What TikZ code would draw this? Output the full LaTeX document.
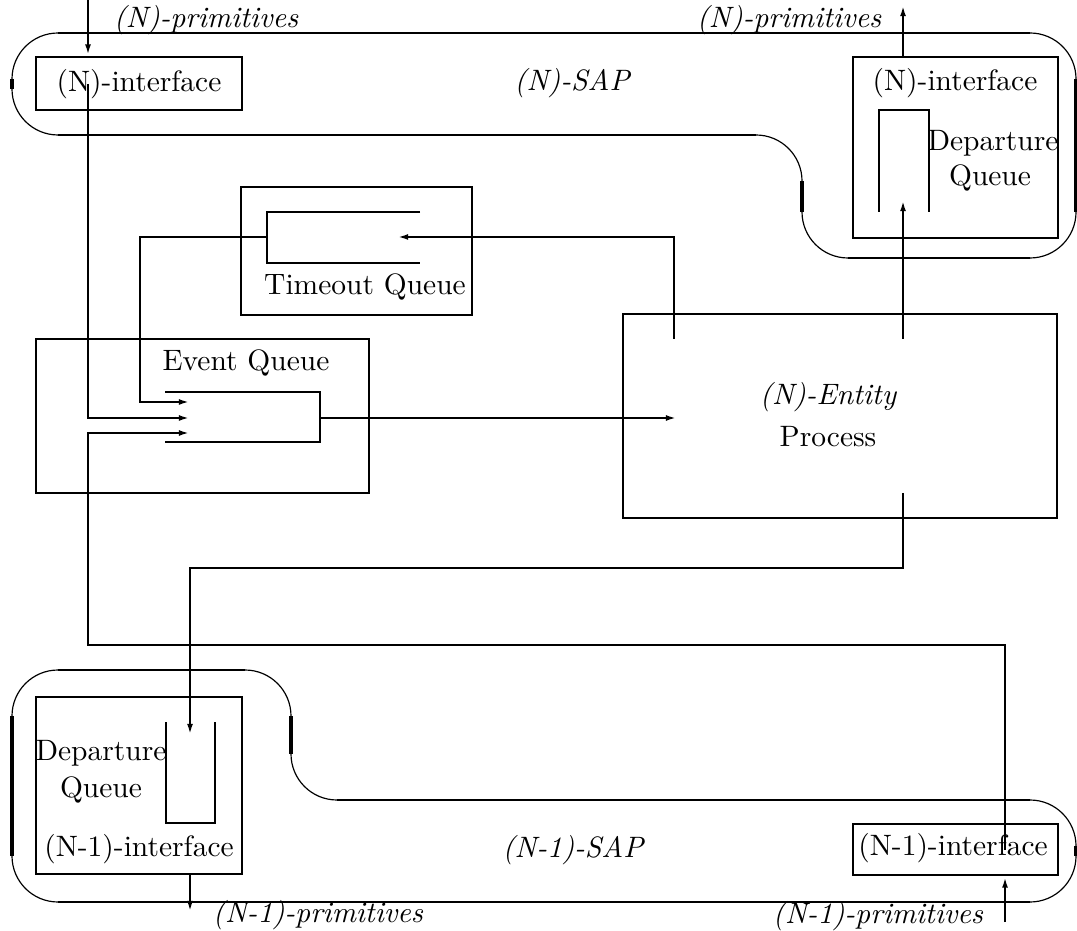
\documentclass[tikz,border=0pt]{standalone}
\usetikzlibrary{arrows.meta,fit}
\begin{document}
\begin{tikzpicture}[x=0.339pt,y=-0.339pt,
  box/.style={draw,line width=1pt,inner sep=0pt},
  conn/.style={line width=0.85pt},
  arr/.style={conn,-{Latex[length=3.8pt,width=2pt]}},
  sapthin/.style={line width=0.4pt,rounded corners=15.6pt},
  saprun/.style={line width=0.85pt},
  sapside/.style={line width=1.15pt},
  qline/.style={line width=1pt},
  lbl/.style={inner sep=0pt},
  itl/.style={inner sep=0pt,font=\itshape}
]
\useasboundingbox (0,0) rectangle (1077,931);

% ---- (N)-SAP outline: thin rounded corners, heavier straight runs
\draw[sapthin] (12,33) -- (1076,33) -- (1076,258) -- (802,258) -- (802,135) -- (12,135) -- cycle;
\draw[saprun] (58,33) -- (1030,33);
\draw[sapside] (1076,79) -- (1076,212);
\draw[saprun] (1030,258) -- (848,258);
\draw[sapside] (802,181) -- (802,212);
\draw[saprun] (756,135) -- (58,135);
\draw[sapside] (12,79) -- (12,89);

% ---- (N-1)-SAP outline
\draw[sapthin] (12,670) -- (291,670) -- (291,800) -- (1076,800) -- (1076,902) -- (12,902) -- cycle;
\draw[saprun] (58,670) -- (245,670);
\draw[sapside] (291,716) -- (291,754);
\draw[saprun] (337,800) -- (1030,800);
\draw[sapside] (1076,846) -- (1076,856);
\draw[saprun] (1030,902) -- (58,902);
\draw[sapside] (12,716) -- (12,856);

% ---- boxes
\node[box,fit={(36,57)(242,110)}] (nifL) {};
\node[box,fit={(853,57)(1058,238)}] (nifR) {};
\node[box,fit={(241,187)(472,315)}] (tobox) {};
\node[box,fit={(36,339)(369,493)}] (evbox) {};
\node[box,fit={(623,314)(1057,518)}] (proc) {};
\node[box,fit={(36,697)(242,874)}] (lifL) {};
\node[box,fit={(853,824)(1058,875)}] (lifR) {};

% ---- queues
\draw[qline] (879,212) -- (879,110) -- (929,110) -- (929,212);
\draw[qline] (420,212) -- (267,212) -- (267,263) -- (420,263);
\draw[qline] (165,392) -- (320,392) -- (320,442) -- (165,442);
\draw[qline] (166,722) -- (166,823) -- (215,823) -- (215,722);

% ---- texts
\node[itl] (tprimL) at (206,20) {(N)-primitives};
\node[itl] (tprimR) at (789,20) {(N)-primitives};
\node[itl] (tsap) at (572,83) {(N)-SAP};
\node[lbl] (tifL) at (139,84) {(N)-interface};
\node[lbl] (tifR) at (955,83) {(N)-interface};
\node[lbl] (tdepR1) at (993,143) {Departure};
\node[lbl] (tdepR2) at (990,178) {Queue};
\node[lbl] (tto) at (365,287) {Timeout Queue};
\node[lbl] (tev) at (246,363) {Event Queue};
\node[itl] (tent) at (828,397) {(N)-Entity};
\node[lbl] (tproc) at (828,437) {Process};
\node[lbl] (tdepL1) at (101,753) {Departure};
\node[lbl] (tdepL2) at (101,790) {Queue};
\node[lbl] (tlifL) at (139,849) {(N-1)-interface};
\node[lbl] (tlifR) at (953,848) {(N-1)-interface};
\node[itl] (tlsap) at (573,850) {(N-1)-SAP};
\node[itl] (tlprimL) at (318,915) {(N-1)-primitives};
\node[itl] (tlprimR) at (878,916) {(N-1)-primitives};

% ---- connector end points
\coordinate (inTop) at (88,0);
\coordinate (inTopA) at (88,84);
\coordinate (evIn1) at (190,402);
\coordinate (evIn2) at (190,418);
\coordinate (evIn3) at (190,433);
\coordinate (toWall) at (267,237);
\coordinate (toIn) at (397,237);
\coordinate (evWall) at (320,418);
\coordinate (procIn) at (677,418);
\coordinate (procTL) at (674,339);
\coordinate (procTR) at (903,339);
\coordinate (procB) at (903,493);
\coordinate (depRIn) at (903,200);
\coordinate (outTop) at (903,5);
\coordinate (depLIn) at (190,735);
\coordinate (outBot) at (190,912);
\coordinate (inBot) at (1005,922);
\coordinate (inBotA) at (1005,850);

% ---- connectors
\draw[arr] (inTop) -- (inTop |- nifL.north);
\draw[arr] (inTopA) |- (evIn2);
\draw[arr] (toWall) -- (140,237) |- (evIn1);
\draw[arr] (procTL) |- (toIn);
\draw[arr] (evWall) -- (procIn);
\draw[arr] (procTR) -- (depRIn);
\draw[arr] (nifR.north -| outTop) -- (outTop);
\draw[arr] (procB) -- (903,568) -| (depLIn);
\draw[arr] (lifL.south -| outBot) -- (outBot);
\draw[arr] (inBot) -- (inBot |- lifR.south);
\draw[arr] (inBotA) -- (1005,645) -| (88,433) -- (evIn3);
\end{tikzpicture}
\end{document}
